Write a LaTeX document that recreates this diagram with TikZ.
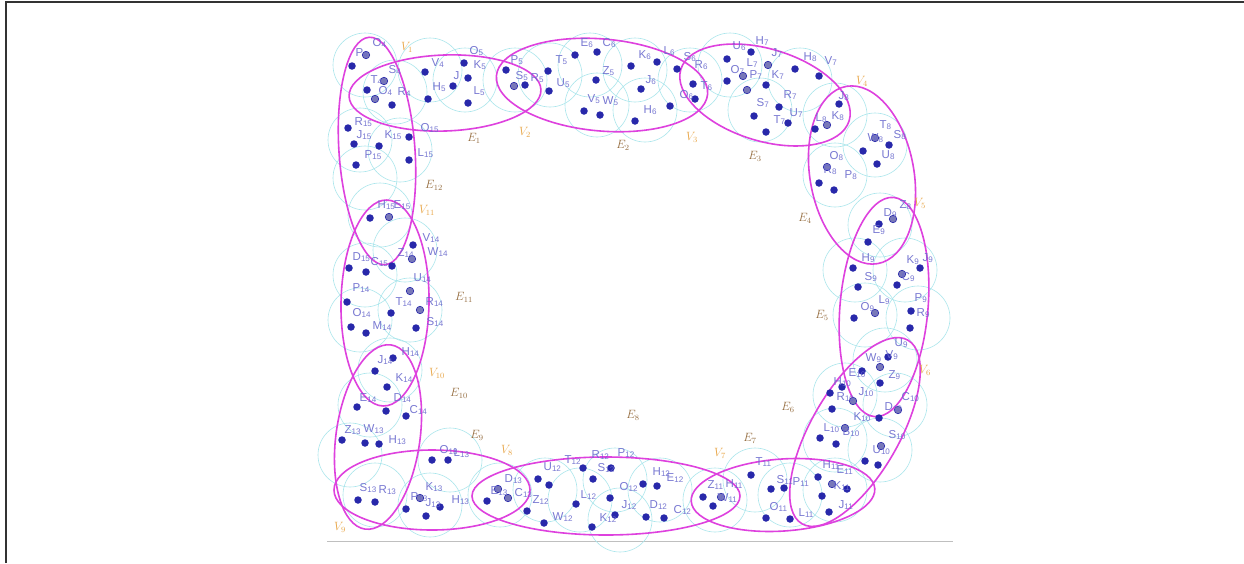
\documentclass[tikz,border=0pt]{standalone}
\usepackage{fontspec}
\newfontfamily\labfont{Liberation Sans}
\definecolor{dotc}{RGB}{40,40,170}
\definecolor{dotg}{RGB}{120,120,185}
\definecolor{labc}{RGB}{105,105,205}
\definecolor{edgec}{RGB}{222,65,222}
\definecolor{cyc}{RGB}{170,230,236}
\definecolor{vcol}{RGB}{232,165,70}
\definecolor{ecol}{RGB}{150,110,65}
\begin{document}
\begin{tikzpicture}[x=1pt,y=-1pt,
 dotn/.style={circle,fill=dotc,inner sep=0pt,minimum size=7.5pt},
 dotgr/.style={circle,fill=dotg,draw=dotc,line width=0.6pt,inner sep=0pt,minimum size=7.5pt},
 lab/.style={text=labc,text opacity=0.9,font=\labfont\fontsize{11.5}{11.5}\selectfont,inner sep=0pt,anchor=west,xshift=-4.5pt},
 vlab/.style={text=vcol,font=\fontsize{11.5}{11.5}\selectfont,inner sep=0pt},
 elab/.style={text=ecol,font=\fontsize{11.5}{11.5}\selectfont,inner sep=0pt},
 hedge/.style={draw=edgec,line width=1.6pt},
 nbhd/.style={draw=cyc,line width=0.6pt}]
\useasboundingbox (0,0) rectangle (1244,563);
\fill[white] (0,0) rectangle (1244,563);
% outer frame
\draw[line width=1.2pt,black!80] (6,563) -- (6,2) -- (1244,2);
% bottom edge of inner picture
\draw[black!25,line width=1pt] (327,541) -- (953,541);
% neighbourhood circles
\foreach \cx/\cy in {365/65,395/92,430/70,465/80,360/140,400/150,515/80,550/75,590/65,597/105,635/70,645/110,690/80,730/65,760/110,800/80,835/115,875/145,835/175,
880/225,855/270,905/270,865/315,918/318,885/360,845/395,895/405,835/440,880/450,835/490,
790/495,755/480,715/500,660/490,615/480,620/520,580/500,545/490,500/495,450/460,430/505,375/495,350/455,
370/405,390/370,360/320,410/310,365/275,405/250,380/215,365/178}
  \draw[nbhd] (\cx,\cy) circle [radius=32pt];
% hyperedges
\draw[hedge,rotate around={2:(445,93)}] (445,93) ellipse [x radius=96pt,y radius=38pt];
\draw[hedge,rotate around={-5:(602,85)}] (602,85) ellipse [x radius=106pt,y radius=46pt];
\draw[hedge,rotate around={-17:(765,95)}] (765,95) ellipse [x radius=88pt,y radius=46pt];
\draw[hedge,rotate around={10:(862,175)}] (862,175) ellipse [x radius=52pt,y radius=90pt];
\draw[hedge,rotate around={-5:(884,307)}] (884,307) ellipse [x radius=44pt,y radius=110pt];
\draw[hedge,rotate around={-30:(855,432)}] (855,432) ellipse [x radius=44pt,y radius=106pt];
\draw[hedge,rotate around={4:(783,495)}] (783,495) ellipse [x radius=92pt,y radius=36pt];
\draw[hedge] (606,496) ellipse [x radius=134pt,y radius=39pt];
\draw[hedge] (432,490) ellipse [x radius=98pt,y radius=40pt];
\draw[hedge,rotate around={-8:(378,437)}] (378,437) ellipse [x radius=42pt,y radius=93pt];
\draw[hedge,rotate around={-1:(385,303)}] (385,303) ellipse [x radius=44pt,y radius=103pt];
\draw[hedge,rotate around={4:(377,151)}] (377,151) ellipse [x radius=38pt,y radius=114pt];
% points
\foreach \x/\y [count=\i] in {352/66,367/90,392/105,425/72,428/99,464/63,468/78,453/86,468/103,506/70,525/85,348/128,354/144,379/146,356/165,409/137,409/160,
548/71,549/91,575/55,597/52,596/80,584/111,600/115,631/66,657/62,641/89,635/121,677/69,693/84,695/99,670/106,
727/59,751/52,727/81,766/85,795/69,819/76,779/107,754/116,788/123,766/132,839/104,815/129,
863/151,889/145,877/164,819/183,834/190,
879/224,868/242,853/268,858/287,920/268,897/285,854/318,911/311,910/328,
888/357,880/383,862/371,842/387,830/393,832/409,879/418,820/438,836/444,865/461,878/465,818/477,847/489,822/496,829/512,
751/475,771/489,784/488,766/518,790/519,703/497,713/506,
611/468,643/484,657/486,610/498,615/515,646/517,664/518,592/527,576/504,527/511,544/523,538/479,549/485,583/468,593/479,
487/501,432/460,448/460,426/516,358/500,375/502,406/509,440/507,342/440,365/443,379/444,357/407,386/411,406/416,
370/218,413/245,349/268,366/272,392/266,347/302,391/313,416/328,351/327,366/333,393/358,375/371,387/387}
  \node[dotn] (p\i) at (\x,\y) {};
\foreach \x/\y [count=\i] in {366/55,375/99,384/81,514/86,768/65,743/76,747/90,827/125,875/138,827/167,893/219,902/274,875/313,880/367,853/401,898/410,845/428,881/446,832/484,721/497,498/489,508/498,420/498,389/217,412/259,410/291,420/310}
  \node[dotgr] (g\i) at (\x,\y) {};
% point labels
\foreach \x/\y/\a/\b [count=\i] in {377/43/O/4,360/53/P/4,393/70/S/4,375/80/T/4,383/91/O/4,402/92/R/4,436/63/V/4,474/51/O/5,478/65/K/5,458/76/J/{},437/87/H/5,478/91/L/5,515/60/P/5,520/76/S/5,535/78/R/5,
359/122/R/15,361/135/J/15,389/135/K/15,369/155/P/15,425/128/O/15,422/153/L/15,
560/60/T/5,561/83/U/5,585/43/E/6,607/43/C/6,607/71/Z/5,592/99/V/5,607/101/W/5,643/55/K/6,668/51/L/6,650/80/J/6,648/110/H/6,688/57/S/6,699/65/R/6,705/86/T/6,684/95/O/6,
737/46/U/6,760/41/H/7,776/53/J/7,751/63/L/7,735/70/O/7,754/75/P/7,776/75/K/7,808/57/H/8,829/61/V/7,788/95/R/7,761/103/S/7,794/113/U/7,778/120/T/7,
843/96/J/8,820/118/L/8,836/116/K/8,884/125/T/8,898/135/S/8,872/138/W/8,886/155/U/8,834/156/O/8,828/170/R/8,849/175/P/8,
904/205/Z/8,888/213/D/9,877/230/E/9,866/258/H/9,869/277/S/9,911/260/K/9,927/258/J/9,906/277/C/9,883/300/L/9,865/307/O/9,919/298/P/9,921/313/R/9,
899/343/U/9,890/355/V/9,870/358/W/9,893/375/Z/9,853/373/E/10,838/382/H/10,863/392/J/10,841/397/R/10,906/397/C/10,889/407/D/10,858/417/K/10,828/428/L/10,847/432/B/10,893/435/S/10,877/450/U/10,
827/465/H/11,841/470/E/11,838/486/K/11,843/505/J/11,
760/462/T/11,781/480/S/11,797/482/P/11,774/507/O/11,803/513/L/11,712/485/Z/11,730/484/H/11,722/498/W/11,
622/453/P/12,657/472/H/12,671/478/E/12,624/487/O/12,626/505/J/12,654/505/D/12,678/510/C/12,604/518/K/12,585/495/L/12,537/500/Z/12,557/517/W/12,596/455/R/12,602/468/S/12,569/460/T/12,548/467/U/12,
509/479/D/13,495/491/E/13,519/493/C/13,444/450/O/13,458/453/L/13,430/487/K/13,456/500/H/13,415/497/P/13,430/503/J/13,364/488/S/13,383/490/R/13,349/430/Z/13,368/429/W/13,393/440/H/13,
364/398/E/14,398/398/D/14,414/410/C/14,
382/205/H/15,398/205/E/15,427/238/V/14,432/252/W/14,357/257/D/15,375/262/C/15,402/253/Z/14,418/278/U/14,357/288/P/14,400/302/T/14,430/302/R/14,431/322/S/14,357/313/O/14,377/326/M/14,406/352/H/14,382/360/J/14,400/378/K/14}
  \node[lab] (t\i) at (\x,\y) {\a\textsubscript{\b}};
% vertex labels
\foreach \x/\y/\k in {407/47/1,525/132/2,692/137/3,862/81/4,920/203/5,925/370/6,720/453/7,507/450/8,340/527/9,437/373/10,427/210/11}
  \node[vlab] (v\k) at (\x,\y) {$V_{\k}$};
% edge labels
\foreach \x/\y/\k in {474/138/1,623/145/2,755/156/3,805/218/4,822/315/5,788/407/6,750/438/7,633/415/8,477/435/9,459/393/10,464/297/11,434/185/12}
  \node[elab] (e\k) at (\x,\y) {$E_{\k}$};
\end{tikzpicture}
\end{document}
